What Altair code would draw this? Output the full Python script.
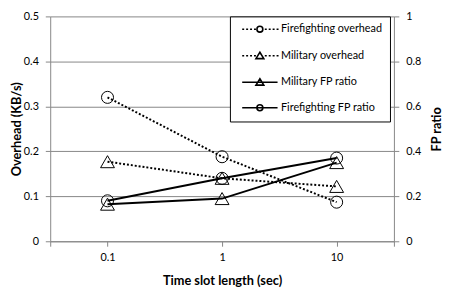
import altair as alt
import pandas as pd

# ---- data ----
slots = [0.1, 1, 10]
ff_overhead = [0.32, 0.188, 0.087]
mil_overhead = [0.177, 0.14, 0.122]
mil_fp = [0.165, 0.19, 0.35]
ff_fp = [0.18, 0.28, 0.37]

series_names = ["Firefighting overhead", "Military overhead",
                "Military FP ratio", "Firefighting FP ratio"]
series_kind = ["overhead", "overhead", "fp", "fp"]
series_marker = ["circle", "triangle", "triangle", "circle"]
series_values = [ff_overhead, mil_overhead, mil_fp, ff_fp]

left_ticks = [0, 0.1, 0.2, 0.3, 0.4, 0.5]
right_ticks = [0, 0.2, 0.4, 0.6, 0.8, 1]

rows = []
for name, kind, marker, vals in zip(series_names, series_kind, series_marker, series_values):
    for s, v in zip(slots, vals):
        rows.append({"slot": s, "value": v, "series": name, "kind": kind, "marker": marker})
df = pd.DataFrame(rows)

# ---- legend symbols (line + marker) as custom paths ----
S = 4.0  # px per path unit (symbolSize 64)


def u(px):
    return f"{px / S:.3f}"


def circle_path(c, r):
    return (f"M{u(c - r)},0A{u(r)},{u(r)} 0 1,1 {u(c + r)},0"
            f"A{u(r)},{u(r)} 0 1,1 {u(c - r)},0")


def tri_path(c):
    return f"M{u(c)},{u(-3.5)}L{u(c + 4)},{u(3)}L{u(c - 4)},{u(3)}Z"


def dotted(a, b):
    out = ""
    x = a
    while x + 2 <= b + 0.01:
        out += f"M{u(x)},0L{u(x + 2)},0"
        x += 4
    return out


MC = 17.5
dot_line = dotted(-0.5, 14) + dotted(22.5, 37)
solid_line = f"M{u(-0.5)},0L{u(35.5)},0"
legend_paths = [
    dot_line + circle_path(MC, 3),
    dot_line + tri_path(MC),
    solid_line + tri_path(MC),
    solid_line + circle_path(MC, 3),
]

lo, hi = 10 ** -1.5, 10 ** 1.5
x_enc = alt.X(
    "slot:Q",
    scale=alt.Scale(type="log", domain=[lo, hi]),
    axis=alt.Axis(
        values=[lo, 0.1, 1, 10, hi],
        labelExpr="datum.value < 0.05 || datum.value > 20 ? '' : format(datum.value, '~g')",
        tickSize=5, labelPadding=6, grid=False, titlePadding=12,
    ),
    title="Time slot length (sec)",
)

y_left = alt.Y(
    "value:Q",
    scale=alt.Scale(domain=[0, 0.5]),
    axis=alt.Axis(orient="left", values=left_ticks, format="~g", tickSize=5,
                  labelPadding=7, grid=True, titlePadding=0),
    title="Overhead (KB/s)",
)
y_right = alt.Y(
    "value:Q",
    scale=alt.Scale(domain=[0, 1]),
    axis=alt.Axis(orient="right", values=right_ticks, format="~g", tickSize=5,
                  labelPadding=7, grid=False, titlePadding=10, titleAngle=270,
                  titleBaseline="top"),
    title="FP ratio",
)

base = alt.Chart(df)

ov = base.transform_filter("datum.kind == 'overhead'")
ov_lines = ov.mark_line(color="black", strokeWidth=2, strokeDash=[2, 2]).encode(
    x=x_enc, y=y_left, detail="series:N")
ov_circ = ov.transform_filter("datum.marker == 'circle'").mark_point(
    shape="circle", size=150, color="black", strokeWidth=1, filled=False, opacity=1
).encode(x=x_enc, y=y_left)
ov_tri = ov.transform_filter("datum.marker == 'triangle'").mark_point(
    shape="triangle-up", size=200, color="black", strokeWidth=1, filled=False, opacity=1
).encode(x=x_enc, y=y_left)

legend_layer = base.mark_point(color="black", opacity=0, filled=False).encode(
    x=x_enc, y=y_left,
    shape=alt.Shape(
        "series:N",
        scale=alt.Scale(domain=series_names, range=legend_paths),
        legend=alt.Legend(
            title=None, orient="none", legendX=183, legendY=0,
            symbolSize=64, symbolStrokeWidth=1.6, symbolStrokeColor="black",
            symbolFillColor="transparent", symbolOpacity=1,
            labelOffset=33.5, labelFont="Lato", labelFontSize=11, labelColor="black",
            rowPadding=13, padding=7.5, strokeColor="black", fillColor="white",
            labelLimit=200,
        ),
    ),
)

left = alt.layer(ov_lines, ov_circ, ov_tri, legend_layer)

fp = base.transform_filter("datum.kind == 'fp'")
fp_lines = fp.mark_line(color="black", strokeWidth=2).encode(
    x=x_enc, y=y_right, detail="series:N")
fp_circ = fp.transform_filter("datum.marker == 'circle'").mark_point(
    shape="circle", size=150, color="black", strokeWidth=1, filled=False, opacity=1
).encode(x=x_enc, y=y_right)
fp_tri = fp.transform_filter("datum.marker == 'triangle'").mark_point(
    shape="triangle-up", size=200, color="black", strokeWidth=1, filled=False, opacity=1
).encode(x=x_enc, y=y_right)

right = alt.layer(fp_lines, fp_circ, fp_tri)

chart = alt.layer(left, right).resolve_scale(y="independent").properties(
    width=350, height=229,
    autosize=alt.AutoSizeParams(type="none"),
    padding={"left": 43, "top": 6, "right": 51, "bottom": 45},
).configure_view(stroke=None).configure_axis(
    labelFont="Lato", labelFontSize=11, labelColor="black",
    titleFont="Lato", titleFontSize=13, titleFontWeight="bold", titleColor="black",
    domainColor="#868686", tickColor="#868686", gridColor="#868686",
)

chart.save("out.html", embed_options={"renderer": "svg", "actions": False})
